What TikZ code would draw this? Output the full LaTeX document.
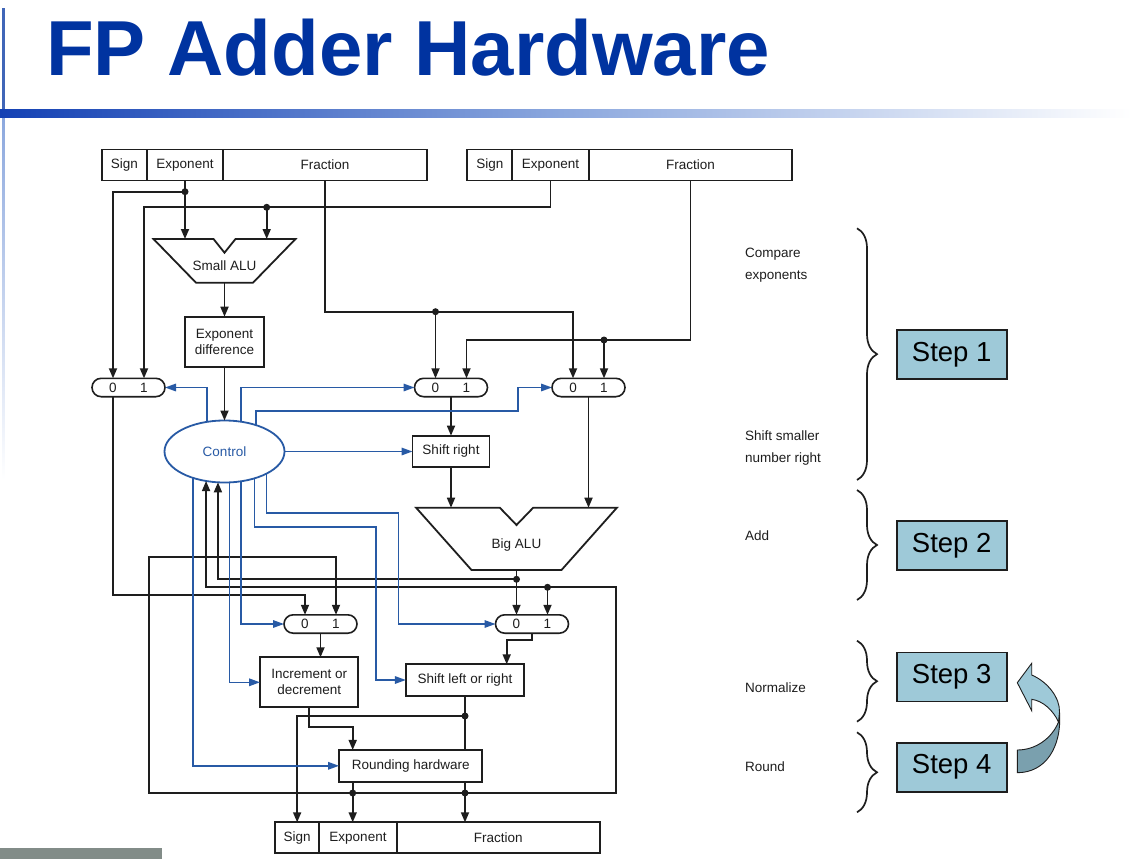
\documentclass[tikz,border=0pt]{standalone}
\usepackage{fontspec}
\setmainfont{Liberation Sans}
\usetikzlibrary{arrows.meta,calc,decorations.pathreplacing,shapes.geometric}
\definecolor{titleblue}{RGB}{0,51,160}
\definecolor{barblue}{RGB}{20,65,180}
\definecolor{barmid}{RGB}{140,168,222}
\definecolor{ctlblue}{RGB}{40,90,165}
\definecolor{stepfill}{RGB}{158,201,216}
\definecolor{stepdark}{RGB}{122,160,174}
\definecolor{greybar}{RGB}{130,140,136}
\definecolor{ink}{RGB}{30,30,30}
\begin{document}
\begin{tikzpicture}[x=1pt,y=-1pt,
  lbl/.style={font=\fontsize{13.5}{16}\selectfont,text=ink},
  box/.style={draw=ink,line width=1.8pt,inner sep=0pt,outer sep=0pt,align=center,lbl},
  field/.style={box,minimum height=31pt},
  mux/.style={draw=ink,line width=1.6pt,rounded corners=9.2pt,minimum width=73pt,minimum height=18.4pt,inner sep=0pt,outer sep=0pt,lbl},
  wire/.style={line width=1.7pt,ink},
  arr/.style={-{Triangle[length=10pt,width=8pt]}},
  carr/.style={-{Triangle[length=11pt,width=7.5pt]}},
  cwire/.style={line width=1.6pt,ctlblue},
  dot/.style={circle,fill=ink,inner sep=0pt,minimum size=7pt},
  steplbl/.style={font=\fontsize{13.5}{22}\selectfont,anchor=west,align=left,inner sep=0pt,text=ink},
  stepbox/.style={draw=ink,line width=1.8pt,fill=stepfill,minimum width=110pt,minimum height=49pt,inner sep=0pt,font=\fontsize{27.5}{27.5}\selectfont},
  brc/.style={decorate,decoration={brace,amplitude=20pt},line width=1.7pt,ink},
  alu/.style={draw=ink,line width=1.8pt,line join=miter}
]
\useasboundingbox (0,0) rectangle (1132,859);
\fill[white] (0,0) rectangle (1132,859);
% slide decoration
\fill[titleblue!75] (2,8) rectangle (4.5,109);
\shade[top color=barmid,bottom color=white] (2,117) rectangle (4.5,480);
\shade[left color=barblue,right color=white,middle color=barmid] (0,109) rectangle (1132,117);
\fill[greybar] (0,848) rectangle (162,859);
\node[anchor=base west,inner sep=0pt,text=titleblue,font=\fontsize{78}{78}\selectfont\bfseries] (title) at (46,75) {FP Adder Hardware};

% registers
\node[field,minimum width=44.7pt] (signA) at (124.35,165) {Sign};
\node[field,minimum width=76.6pt] (expA) at (185,165) {Exponent};
\node[field,minimum width=203.4pt] (fracA) at (325,165) {Fraction};
\node[field,minimum width=45pt] (signB) at (489.8,165) {Sign};
\node[field,minimum width=76.4pt] (expB) at (550.5,165) {Exponent};
\node[field,minimum width=203.6pt] (fracB) at (690.5,165) {Fraction};
\node[field,minimum width=44.3pt] (signR) at (297.15,837.8) {Sign};
\node[field,minimum width=77.4pt] (expR) at (358,837.8) {Exponent};
\node[field,minimum width=203.3pt] (fracR) at (498.35,837.8) {Fraction};

% small ALU
\coordinate (salu) at (224.5,239);
\draw[alu] ($(salu)+(-71,0)$) -- ($(salu)+(-11,0)$) -- ($(salu)+(0,13.7)$) -- ($(salu)+(11,0)$) -- ($(salu)+(71,0)$) -- ($(salu)+(28.5,43.7)$) -- ($(salu)+(-28.5,43.7)$) -- cycle;
\node[lbl] (salulbl) at ($(salu)+(0,27)$) {Small ALU};
\coordinate (saluA) at (185,239);
\coordinate (saluB) at (266.7,239);
\coordinate (saluO) at ($(salu)+(0,43.7)$);

% big ALU
\coordinate (balu) at (516.5,507.7);
\draw[alu] ($(balu)+(-100.4,0)$) -- ($(balu)+(-16.7,0)$) -- ($(balu)+(0,17.3)$) -- ($(balu)+(16.7,0)$) -- ($(balu)+(100.4,0)$) -- ($(balu)+(45,62.3)$) -- ($(balu)+(-45,62.3)$) -- cycle;
\node[lbl] (balulbl) at ($(balu)+(0,37.3)$) {Big ALU};
\coordinate (baluA) at (451,507.7);
\coordinate (baluB) at (588.5,507.7);
\coordinate (baluO) at ($(balu)+(0,62.3)$);

% boxes
\node[box,minimum width=79pt,minimum height=50pt] (expdiff) at (224.5,341.7) {Exponent\\difference};
\node[ellipse,draw=ctlblue,line width=1.8pt,minimum width=120pt,minimum height=62pt,inner sep=0pt,outer sep=0pt,lbl,text=ctlblue] (ctrl) at (224.5,451.5) {Control};
\node[box,minimum width=77pt,minimum height=31.7pt] (shiftR) at (451,451.5) {Shift right};
\node[box,minimum width=98.3pt,minimum height=50pt] (incdec) at (309.2,682.3) {Increment or\\decrement};
\node[box,minimum width=118.3pt,minimum height=31.4pt] (shiftLR) at (465,680) {Shift left or right};
\node[box,minimum width=143.3pt,minimum height=31.7pt] (round) at (410.7,765.8) {Rounding hardware};

% multiplexers
\node[mux] (mux1) at (128.5,387.5) {0\hspace{23.5pt}1};
\node[mux] (mux2) at (451,387.5) {0\hspace{23.5pt}1};
\node[mux] (mux3) at (588.5,387.5) {0\hspace{23.5pt}1};
\node[mux] (mux4) at (320.5,624) {0\hspace{23.5pt}1};
\node[mux] (mux5) at (532,624) {0\hspace{23.5pt}1};
\foreach \m in {1,...,5}{
  \coordinate (m\m a) at ($(mux\m.north)+(-15.5,0)$);
  \coordinate (m\m b) at ($(mux\m.north)+(15.5,0)$);
}

% junctions
\coordinate (d1) at (185,191.7);
\coordinate (d2) at (266.7,207.3);
\coordinate (d3) at (435.5,311.7);
\coordinate (d4) at (604,340);
\coordinate (d5) at (516.5,579.3);
\coordinate (cR) at (616,587.3);
\coordinate (d6) at (547.5,587.3);
\coordinate (cL) at (149.3,556.7);
\coordinate (d7) at (465,793);
\coordinate (d8) at (352.7,793);
\coordinate (d9) at (465,716);
\coordinate (j1) at (0,595);
\coordinate (sLRin) at ($(shiftLR.north)+(41.7,0)$);

% black data wires
\draw[wire] (expA.south) -- (d1);
\draw[wire,arr] (d1) -| (m1a);
\draw[wire,arr] (d1) -- (saluA);
\draw[wire,arr] (expB.south) |- (d2) -| (m1b);
\draw[wire,arr] (d2) -- (saluB);
\draw[wire,arr] (fracA.south) |- (d3) -| (m3a);
\draw[wire,arr] (d3) -- (m2a);
\draw[wire,arr] (fracB.south) |- (d4) -| (m2b);
\draw[wire,arr] (d4) -- (m3b);
\draw[wire,arr] (saluO) -- (expdiff.north);
\draw[wire,arr] (expdiff.south) -- (ctrl.north);
\draw[wire,arr] (mux2.south) -- (shiftR.north);
\draw[wire,arr] (shiftR.south) -- (baluA);
\draw[wire,arr] (mux3.south) -- (baluB);
\draw[wire] (baluO) -- (d5);
\draw[wire,arr] (d5) -- (m5a);
\draw[wire,arr] (d5) -| (ctrl.-102);
\draw[wire,arr] (m1a |- mux1.south) |- (m4a |- j1) -- (m4a);
\draw[wire,arr] (d7) -| (cR) -| (ctrl.-122);
\draw[wire,arr] (d6) -- (m5b);
\draw[wire,arr] (d8) -| (cL) -| (m4b);
\draw[wire] (d8) -- (d7);
\draw[wire,arr] (mux4.south) -- (mux4.south |- incdec.north);
\draw[wire,arr] (mux5.south) -- ++(0,7) -| (sLRin);
\draw[wire] (shiftLR.south) -- (shiftLR.south |- round.north);
\draw[wire,arr] (d9) -| (signR.north);
\draw[wire,arr] (incdec.south) -- ++(0,19.4) -| (d8 |- round.north);
\draw[wire] (d8 |- round.south) -- (d8);
\draw[wire,arr] (d8) -- (d8 |- expR.north);
\draw[wire] (d7 |- round.south) -- (d7);
\draw[wire,arr] (d7) -- (d7 |- fracR.north);
\foreach \d in {d1,d2,d3,d4,d5,d6,d7,d8,d9}{\node[dot] at (\d) {};}

% control wires
\coordinate (b3) at (517.7,410.7);
\coordinate (b5) at (398.3,512.7);
\coordinate (b6) at (376,526.7);
\draw[cwire,carr] (ctrl.121) |- (mux1.east);
\draw[cwire,carr] (ctrl.61) |- (mux2.west);
\draw[cwire,carr] (ctrl.40) |- (b3) |- (mux3.west);
\draw[cwire,carr] (ctrl.east) -- (shiftR.west);
\draw[cwire,carr] (ctrl.-28) |- (b5) |- (mux5.west);
\draw[cwire,carr] (ctrl.-42) |- (b6) |- (shiftLR.west);
\draw[cwire,carr] (ctrl.-61) |- (mux4.west);
\draw[cwire,carr] (ctrl.-81) |- (incdec.west);
\draw[cwire,carr] (ctrl.-140) |- (round.west);

% step annotations
\node[steplbl] (t1) at (745,265.5) {Compare\\exponents};
\node[steplbl] (t2) at (745,448.5) {Shift smaller\\number right};
\node[steplbl] (t3) at (745,536) {Add};
\node[steplbl] (t4) at (745,688) {Normalize};
\node[steplbl] (t5) at (745,767) {Round};
\draw[brc] (857,228.3) -- (857,480);
\draw[brc] (857,490) -- (857,600);
\draw[brc] (857,640.7) -- (857,721.7);
\draw[brc] (857,732.3) -- (857,812.3);
\node[stepbox] (s1) at (951.7,354.5) {Step 1};
\node[stepbox] (s2) at (951.7,545.8) {Step 2};
\node[stepbox] (s3) at (951.7,677) {Step 3};
\node[stepbox] (s4) at (951.7,767.2) {Step 4};

% curved arrow from step 4 back to step 3
\filldraw[fill=stepdark,draw=ink,line width=0.9pt,line join=round] (1017.3,750) .. controls (1036,750) and (1052,738) .. (1058.5,722) -- (1059.5,712) .. controls (1062,748) and (1045,772.7) .. (1017.3,772.7) -- cycle;
\filldraw[fill=stepfill,draw=ink,line width=0.9pt,line join=miter] (1017.3,682.7) -- (1031.7,663.3) -- (1031.7,675) .. controls (1048,682) and (1060,698) .. (1059.5,712) -- (1058.5,722) .. controls (1053,710) and (1043,701) .. (1031.7,699.3) -- (1031.7,710.7) -- cycle;
\end{tikzpicture}
\end{document}
